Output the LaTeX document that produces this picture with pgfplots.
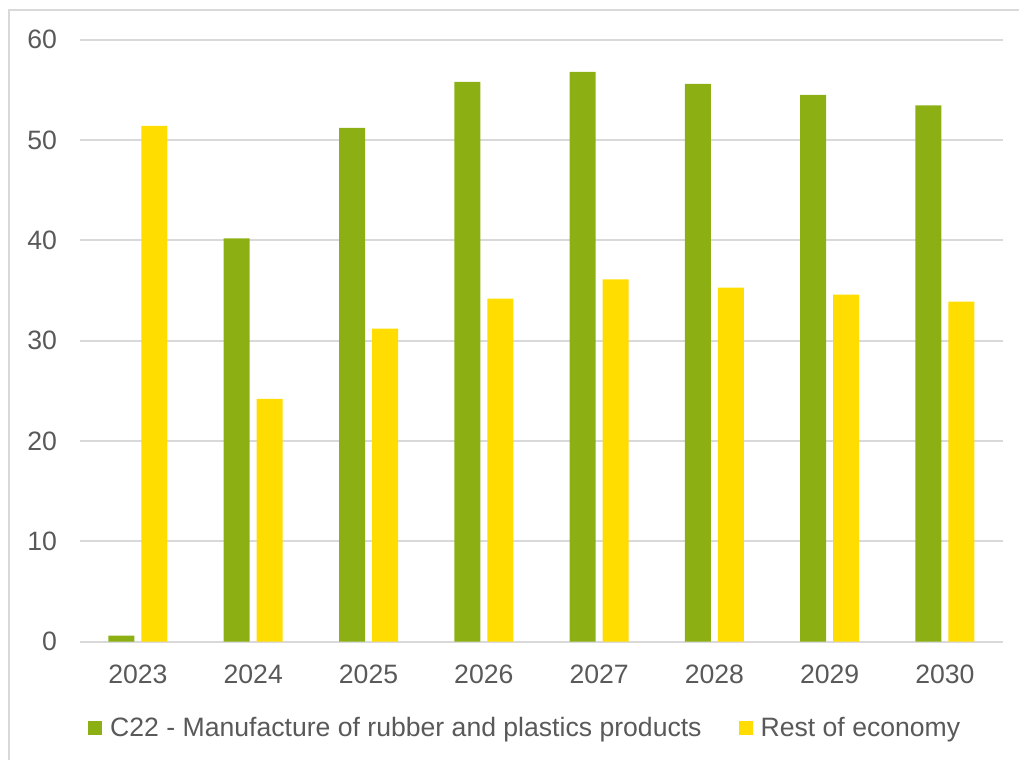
\documentclass[border=0pt]{standalone}
\usepackage{fontspec}
\setmainfont{Liberation Sans}
\usepackage{pgfplots}
\pgfplotsset{compat=1.18}
\definecolor{cgreen}{HTML}{8CB014}
\definecolor{cyellow}{HTML}{FFDD00}
\definecolor{cgrid}{HTML}{D9D9D9}
\definecolor{ctext}{HTML}{595959}
\begin{document}
\begin{tikzpicture}
\useasboundingbox (0,0) rectangle (509.5pt,380pt);
\draw[cgrid, line width=1pt] (4.5pt,-2pt) -- (4.5pt,375pt) -- (512pt,375pt);
\begin{axis}[
  at={(40.15pt,59.15pt)}, anchor=south west,
  scale only axis, width=461.15pt, height=301pt,
  ybar=3.5pt, bar width=13pt,
  xmin=-0.5, xmax=7.5, ymin=0, ymax=60,
  xtick=data, xticklabels={2023,2024,2025,2026,2027,2028,2029,2030},
  ytick={0,10,...,60},
  ymajorgrids, grid style={cgrid, line width=1pt},
  axis line style={draw=none},
  major tick length=0pt,
  tick label style={font=\fontsize{13.3}{16}\selectfont, text=ctext},
  /pgf/number format/assume math mode=true,
  yticklabel style={anchor=east, inner sep=0pt, xshift=-11.5pt},
  xticklabel style={anchor=north, inner sep=0pt, yshift=-11.5pt},
  legend columns=2,
  legend style={at={(0.4835,-0.1434)}, anchor=center, draw=none, fill=none,
    font=\fontsize{13.3}{16}\selectfont, text=ctext, inner sep=0pt,
    /tikz/every even column/.append style={column sep=16.5pt}},
  legend image code/.code={\fill[#1] (0pt,-3.5pt) rectangle (7pt,3.5pt); \path (9pt,0pt);},
  legend cell align=left,
]
\addplot[fill=cgreen, draw=none] coordinates {(0,0.6) (1,40.2) (2,51.2) (3,55.8) (4,56.8) (5,55.6) (6,54.5) (7,53.45)};
\addplot[fill=cyellow, draw=none] coordinates {(0,51.4) (1,24.2) (2,31.2) (3,34.2) (4,36.1) (5,35.3) (6,34.6) (7,33.9)};
\legend{C22 - Manufacture of rubber and plastics products, Rest of economy}
\end{axis}
\end{tikzpicture}
\end{document}
